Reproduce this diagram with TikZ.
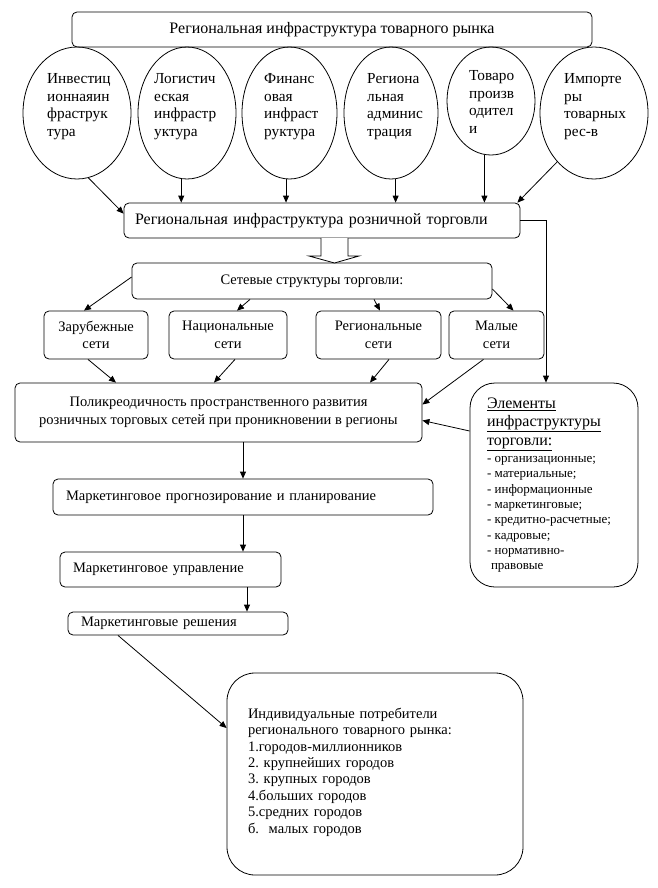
\documentclass[tikz,border=0pt]{standalone}
\usepackage{fontspec}
\setmainfont{Liberation Serif}
\usetikzlibrary{shapes.geometric,arrows.meta}
\frenchspacing
\newcommand\fmain{\fontsize{14.5}{17.5}\selectfont}
\newcommand\fbig{\fontsize{16}{18}\selectfont}
\newcommand\fell{\fontsize{15.3}{17.8}\selectfont}
\newcommand\fhead{\fontsize{16}{18.5}\selectfont}
\newcommand\fsmall{\fontsize{13}{15.3}\selectfont}
\newcommand\find{\fontsize{14.5}{16.4}\selectfont}
\tikzset{
  bx/.style={draw, rounded corners=5pt, inner sep=0pt, line width=0.8pt, font=\fmain, align=center},
  lbx/.style={bx, align=left},
  el/.style={draw, ellipse, inner sep=0pt, line width=0.8pt},
  etxt/.style={anchor=north west, inner sep=0pt, align=left, font=\fell},
  arr/.style={-{Triangle[length=7pt,width=6pt]}, line width=0.8pt},
  ln/.style={line width=0.8pt}
}
\begin{document}
\begin{tikzpicture}[x=1pt,y=-1pt]
\useasboundingbox (0,0) rectangle (657,888);
% top box
\node[bx, font=\fbig, minimum width=520pt, minimum height=35pt] (top) at (332,29.5) {Региональная инфраструктура товарного рынка};
% ellipses
\node[el, minimum width=108pt, minimum height=132pt] (e1) at (77,113) {};
\node[el, minimum width=98pt, minimum height=132pt] (e2) at (187,113) {};
\node[el, minimum width=95pt, minimum height=132pt] (e3) at (289.5,113) {};
\node[el, minimum width=94pt, minimum height=132pt] (e4) at (391,113) {};
\node[el, minimum width=88pt, minimum height=108pt] (e5) at (491,101) {};
\node[el, minimum width=108pt, minimum height=132pt] (e6) at (594,113) {};
\node[etxt] (t1) at (47,73) {Инвестиц\\ионнаяин\\фраструк\\тура};
\node[etxt] (t2) at (154,73) {Логистич\\еская\\инфрастр\\уктура};
\node[etxt] (t3) at (264,73) {Финанс\\овая\\инфраст\\руктура};
\node[etxt] (t4) at (367,73) {Региона\\льная\\админис\\трация};
\node[etxt] (t5) at (469,70) {Товаро\\произв\\одител\\и};
\node[etxt] (t6) at (564,73) {Импорте\\ры\\товарных\\рес-в};
% retail infrastructure
\node[lbx, font=\fbig, minimum width=396pt, minimum height=35pt, text width=374pt, inner xsep=11pt] (rozn) at (322,220.5) {Региональная инфраструктура розничной торговли};
\draw[arr] (e1.-80) -- ([yshift=-11pt]rozn.north west);
\draw[arr] (e2.265) -- (e2.265 |- rozn.north);
\draw[arr] (e3.267) -- (e3.267 |- rozn.north);
\draw[arr] (e4.274) -- (e4.274 |- rozn.north);
\draw[arr] (e5.263) -- (e5.263 |- rozn.north);
\draw[arr] (e6.233) -- ([xshift=-3pt]rozn.north east);
% network structures
\node[bx, minimum width=360pt, minimum height=36pt] (set) at (312,281) {Сетевые структуры торговли:};
\draw[ln, fill=white] (321,238) -- (321,256) -- (309,256) -- (334.5,263) -- (359,256) -- (348,256) -- (348,238);
\node[bx, minimum width=104pt, minimum height=48pt] (zar) at (96,335) {Зарубежные\\сети};
\node[bx, minimum width=118pt, minimum height=48pt] (nac) at (228,335) {Национальные\\сети};
\node[bx, minimum width=125pt, minimum height=48pt] (reg) at (378.5,335) {Региональные\\сети};
\node[bx, minimum width=95pt, minimum height=48pt] (mal) at (496.5,335) {Малые\\сети};
\draw[arr] ([yshift=4pt]set.west) -- ([xshift=-12pt]zar.north);
\draw[arr] (set.south -| 250,0) -- ([xshift=9pt]nac.north);
\draw[arr] (set.south -| 374,0) -- ([xshift=1.5pt]reg.north);
\draw[arr] ([yshift=-8pt]set.east) -- ([xshift=17pt]mal.north);
% polycentric
\node[bx, minimum width=407pt, minimum height=59pt] (poli) at (218.5,412.5) {Поликреодичность пространственного развития\\розничных торговых сетей при проникновении в регионы};
\draw[arr] ([xshift=-8pt]zar.south) -- (poli.north -| 116,0);
\draw[arr] ([xshift=7pt]nac.south) -- (poli.north -| 214,0);
\draw[arr] ([xshift=10.5pt]reg.south) -- (poli.north -| 370,0);
\draw[arr] ([xshift=-13pt]mal.south) -- ([yshift=8pt]poli.east);
% elements
\node[draw, rounded corners=25pt, line width=0.8pt, minimum width=168pt, minimum height=204pt, text width=134pt, inner xsep=17pt, inner ysep=0pt, align=left] (elem) at (554,485) {\fhead\underline{Элементы}\\\underline{инфраструктуры}\\\underline{торговли:}\par\vspace{2pt}
\fsmall - организационные;\\- материальные;\\- информационные\\- маркетинговые;\\- кредитно-расчетные;\\- кадровые;\\- нормативно-\\\hspace*{4pt}правовые\par};
\coordinate (rc) at (546,220.5);
\draw[arr] (rozn.east) -- (rc) -- (rc |- elem.north);
\draw[arr] (elem.west |- 0,431) -- ([yshift=-8pt]poli.east);
% marketing chain
\node[lbx, minimum width=380pt, minimum height=36pt, text width=354pt, inner xsep=13pt] (prog) at (243,497) {Маркетинговое прогнозирование и планирование};
\node[lbx, minimum width=221pt, minimum height=35pt, text width=195pt, inner xsep=13pt] (upr) at (170.5,569.5) {Маркетинговое управление};
\node[lbx, minimum width=220pt, minimum height=23pt, text width=194pt, inner xsep=13pt] (resh) at (178,623.5) {Маркетинговые решения};
\draw[arr] (poli.south -| prog.north) -- (prog.north);
\draw[arr] (prog.south) -- (prog.south |- upr.north);
\draw[arr] (upr.south -| 247,0) -- (resh.north -| 247,0);
% consumers
\node[draw, rounded corners=28pt, line width=0.8pt, minimum width=296pt, minimum height=202pt, text width=254pt, inner xsep=21pt, inner ysep=0pt, align=left, font=\find] (ind) at (375,774) {Индивидуальные потребители\\регионального товарного рынка:\\1.городов-миллионников\\2. крупнейших городов\\3. крупных городов\\4.больших городов\\5.средних городов\\б.\ \ малых городов\\[-9.4pt]\mbox{}};
\draw[arr] (resh.south -| 118,0) -- (ind.west |- 0,728);
\end{tikzpicture}
\end{document}
